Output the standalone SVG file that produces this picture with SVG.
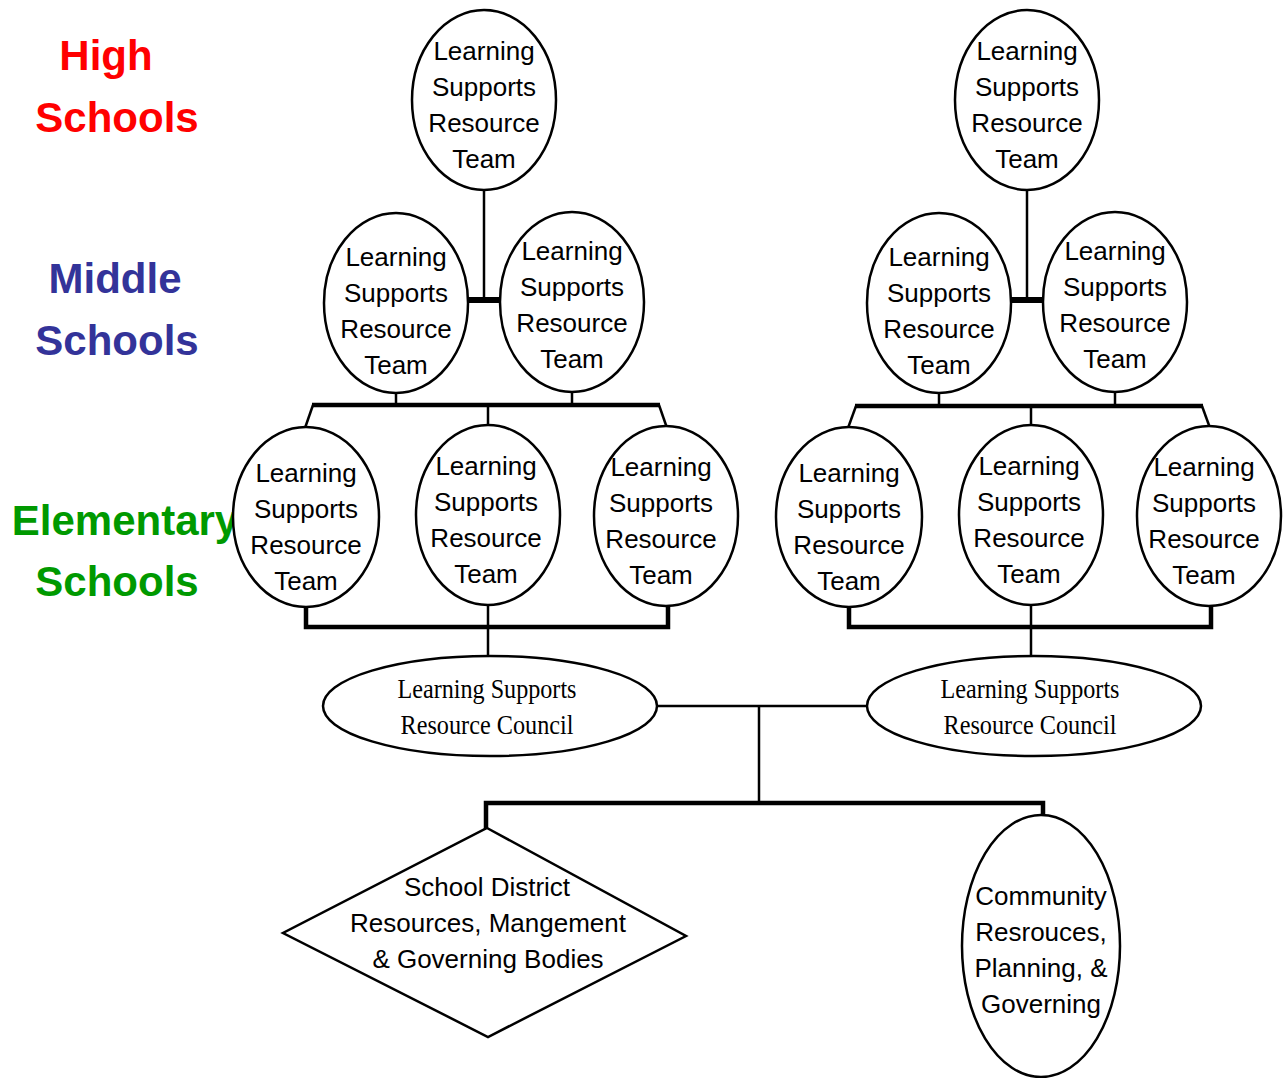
<svg xmlns="http://www.w3.org/2000/svg" width="1283" height="1078" viewBox="0 0 1283 1078">
  <style>
    .lvl { font-family: "Liberation Sans", Arial, sans-serif; font-weight: bold; font-size: 42px; text-anchor: middle; }
    .team { fill: #fff; stroke: #000; stroke-width: 2.5; }
    .tt { font-family: "Liberation Sans", Arial, sans-serif; font-size: 26px; fill: #000; text-anchor: middle; }
    .ct { font-family: "Liberation Serif", "Times New Roman", serif; font-size: 28px; fill: #000; text-anchor: middle; }
    .ln { stroke: #000; stroke-width: 2.5; fill: none; }
    .bar { stroke: #000; stroke-width: 4.5; fill: none; }
    .bar6 { stroke: #000; stroke-width: 6; fill: none; }
  </style>

  <!-- level labels -->
  <g id="labels">
    <text class="lvl" x="106" y="70" fill="#ff0000">High</text>
    <text class="lvl" x="117" y="132" fill="#ff0000">Schools</text>
    <text class="lvl" x="115" y="293" fill="#333399">Middle</text>
    <text class="lvl" x="117" y="355" fill="#333399">Schools</text>
    <text class="lvl" x="125" y="535" fill="#009900">Elementary</text>
    <text class="lvl" x="117" y="596" fill="#009900">Schools</text>
  </g>

  <!-- connectors -->
  <g id="connectors">
    <!-- left cluster -->
    <line class="ln" x1="484" y1="189" x2="484" y2="300"/>
    <line class="bar6" x1="467" y1="300" x2="500" y2="300"/>
    <line class="ln" x1="396" y1="392" x2="396" y2="405"/>
    <line class="ln" x1="572" y1="391" x2="572" y2="405"/>
    <line class="bar" x1="312" y1="405" x2="660" y2="405"/>
    <polyline class="ln" points="313,405 305,428"/>
    <polyline class="ln" points="659,405 667,428"/>
    <line class="ln" x1="488" y1="405" x2="488" y2="426"/>
    <polyline class="bar" points="306,605 306,627 668,627 668,605"/>
    <line class="ln" x1="488" y1="603" x2="488" y2="656"/>

    <!-- right cluster -->
    <line class="ln" x1="1027" y1="189" x2="1027" y2="300"/>
    <line class="bar6" x1="1010" y1="300" x2="1043" y2="300"/>
    <line class="ln" x1="939" y1="392" x2="939" y2="406"/>
    <line class="ln" x1="1115" y1="391" x2="1115" y2="406"/>
    <line class="bar" x1="855" y1="406" x2="1203" y2="406"/>
    <polyline class="ln" points="856,406 848,428"/>
    <polyline class="ln" points="1202,406 1210,428"/>
    <line class="ln" x1="1031" y1="406" x2="1031" y2="426"/>
    <polyline class="bar" points="849,605 849,627 1211,627 1211,605"/>
    <line class="ln" x1="1031" y1="603" x2="1031" y2="656"/>

    <!-- councils to district / community -->
    <line class="ln" x1="656" y1="706" x2="868" y2="706"/>
    <line class="ln" x1="759" y1="706" x2="759" y2="803"/>
    <polyline class="bar" points="486,829 486,803 1043,803 1043,815"/>
  </g>

  <!-- high school teams -->
  <g id="hs-left">
    <ellipse class="team" cx="484" cy="100" rx="72" ry="90"/>
    <text class="tt" x="484" y="60">Learning</text>
    <text class="tt" x="484" y="96">Supports</text>
    <text class="tt" x="484" y="132">Resource</text>
    <text class="tt" x="484" y="168">Team</text>
  </g>
  <g id="hs-right">
    <ellipse class="team" cx="1027" cy="100" rx="72" ry="90"/>
    <text class="tt" x="1027" y="60">Learning</text>
    <text class="tt" x="1027" y="96">Supports</text>
    <text class="tt" x="1027" y="132">Resource</text>
    <text class="tt" x="1027" y="168">Team</text>
  </g>

  <!-- middle school teams -->
  <g id="ms-left-a">
    <ellipse class="team" cx="396" cy="303" rx="72" ry="90"/>
    <text class="tt" x="396" y="266">Learning</text>
    <text class="tt" x="396" y="302">Supports</text>
    <text class="tt" x="396" y="338">Resource</text>
    <text class="tt" x="396" y="374">Team</text>
  </g>
  <g id="ms-left-b">
    <ellipse class="team" cx="572" cy="302" rx="72" ry="90"/>
    <text class="tt" x="572" y="260">Learning</text>
    <text class="tt" x="572" y="296">Supports</text>
    <text class="tt" x="572" y="332">Resource</text>
    <text class="tt" x="572" y="368">Team</text>
  </g>
  <g id="ms-right-a">
    <ellipse class="team" cx="939" cy="303" rx="72" ry="90"/>
    <text class="tt" x="939" y="266">Learning</text>
    <text class="tt" x="939" y="302">Supports</text>
    <text class="tt" x="939" y="338">Resource</text>
    <text class="tt" x="939" y="374">Team</text>
  </g>
  <g id="ms-right-b">
    <ellipse class="team" cx="1115" cy="302" rx="72" ry="90"/>
    <text class="tt" x="1115" y="260">Learning</text>
    <text class="tt" x="1115" y="296">Supports</text>
    <text class="tt" x="1115" y="332">Resource</text>
    <text class="tt" x="1115" y="368">Team</text>
  </g>

  <!-- elementary school teams -->
  <g id="es-left-a">
    <ellipse class="team" cx="306" cy="517" rx="73" ry="90"/>
    <text class="tt" x="306" y="482">Learning</text>
    <text class="tt" x="306" y="518">Supports</text>
    <text class="tt" x="306" y="554">Resource</text>
    <text class="tt" x="306" y="590">Team</text>
  </g>
  <g id="es-left-b">
    <ellipse class="team" cx="488" cy="515" rx="72" ry="90"/>
    <text class="tt" x="486" y="475">Learning</text>
    <text class="tt" x="486" y="511">Supports</text>
    <text class="tt" x="486" y="547">Resource</text>
    <text class="tt" x="486" y="583">Team</text>
  </g>
  <g id="es-left-c">
    <ellipse class="team" cx="666" cy="516" rx="72" ry="90"/>
    <text class="tt" x="661" y="476">Learning</text>
    <text class="tt" x="661" y="512">Supports</text>
    <text class="tt" x="661" y="548">Resource</text>
    <text class="tt" x="661" y="584">Team</text>
  </g>
  <g id="es-right-a">
    <ellipse class="team" cx="849" cy="517" rx="73" ry="90"/>
    <text class="tt" x="849" y="482">Learning</text>
    <text class="tt" x="849" y="518">Supports</text>
    <text class="tt" x="849" y="554">Resource</text>
    <text class="tt" x="849" y="590">Team</text>
  </g>
  <g id="es-right-b">
    <ellipse class="team" cx="1031" cy="515" rx="72" ry="90"/>
    <text class="tt" x="1029" y="475">Learning</text>
    <text class="tt" x="1029" y="511">Supports</text>
    <text class="tt" x="1029" y="547">Resource</text>
    <text class="tt" x="1029" y="583">Team</text>
  </g>
  <g id="es-right-c">
    <ellipse class="team" cx="1209" cy="516" rx="72" ry="90"/>
    <text class="tt" x="1204" y="476">Learning</text>
    <text class="tt" x="1204" y="512">Supports</text>
    <text class="tt" x="1204" y="548">Resource</text>
    <text class="tt" x="1204" y="584">Team</text>
  </g>

  <!-- resource councils -->
  <g id="council-left">
    <ellipse class="team" cx="490" cy="706" rx="167" ry="50"/>
    <text class="ct" x="487" y="698" textLength="179" lengthAdjust="spacingAndGlyphs">Learning Supports</text>
    <text class="ct" x="487" y="734" textLength="173" lengthAdjust="spacingAndGlyphs">Resource Council</text>
  </g>
  <g id="council-right">
    <ellipse class="team" cx="1034" cy="706" rx="167" ry="50"/>
    <text class="ct" x="1030" y="698" textLength="179" lengthAdjust="spacingAndGlyphs">Learning Supports</text>
    <text class="ct" x="1030" y="734" textLength="173" lengthAdjust="spacingAndGlyphs">Resource Council</text>
  </g>

  <!-- district and community -->
  <g id="district">
    <polygon class="team" points="487,828 686,936 488,1037 283,933"/>
    <text class="tt" x="487" y="896">School District</text>
    <text class="tt" x="488" y="932">Resources, Mangement</text>
    <text class="tt" x="488" y="968">&amp; Governing Bodies</text>
  </g>
  <g id="community">
    <ellipse class="team" cx="1041" cy="946" rx="79" ry="131"/>
    <text class="tt" x="1041" y="905">Community</text>
    <text class="tt" x="1041" y="941">Resrouces,</text>
    <text class="tt" x="1041" y="977">Planning, &amp;</text>
    <text class="tt" x="1041" y="1013">Governing</text>
  </g>
</svg>
